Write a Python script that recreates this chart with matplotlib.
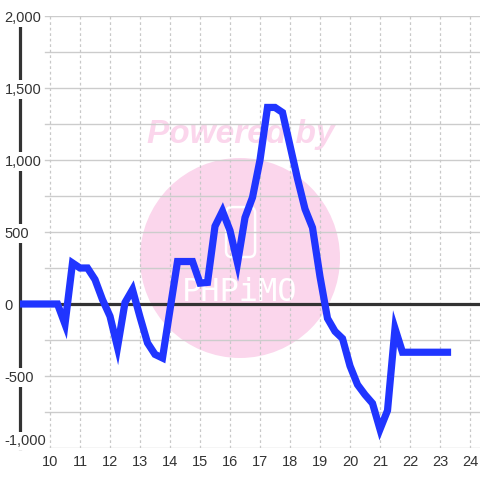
import matplotlib.pyplot as plt
from matplotlib.patches import Circle, FancyBboxPatch

# time of day (hours) and value
hours = [9.0, 9.25, 9.5, 9.75, 10.0, 10.25, 10.5, 10.75, 11.0, 11.25,
         11.5, 11.75, 12.0, 12.25, 12.5, 12.75, 13.0, 13.25, 13.5, 13.75,
         14.0, 14.25, 14.5, 14.75, 15.0, 15.25, 15.5, 15.75, 16.0, 16.25,
         16.5, 16.75, 17.0, 17.25, 17.5, 17.75, 18.0, 18.25, 18.5, 18.75,
         19.0, 19.25, 19.5, 19.75, 20.0, 20.25, 20.5, 20.75, 21.0, 21.25,
         21.5, 21.75, 22.0, 22.25, 22.5, 22.75, 23.0, 23.25]
values = [0, 0, 0, 0, 0, 0, -140, 285, 250, 250,
          170, 30, -85, -300, 10, 100, -90, -270, -350, -375,
          -40, 295, 295, 295, 145, 150, 540, 645, 510, 285,
          600, 740, 1000, 1365, 1365, 1330, 1100, 870, 660, 530,
          190, -100, -190, -240, -430, -560, -630, -690, -870, -740,
          -170, -335, -335, -335, -335, -335, -335, -335]

x_ticks = list(range(10, 25))
y_ticks = [-1000, -500, 0, 500, 1000, 1500, 2000]
y_grid = [-1000, -750, -500, -250, 250, 500, 750, 1000, 1250, 1500, 1750, 2000]

plt.rcParams['font.family'] = ['Liberation Sans', 'DejaVu Sans']

fig = plt.figure(figsize=(4.8, 4.8), dpi=100)
ax = fig.add_axes([20 / 480, 32 / 480, 460 / 480, 432 / 480])
ax.set_xlim(9, 9 + 460 / 30)
ax.set_ylim(-1000, 2000)

# watermark (figure coords, so the circle stays round)
pink = '#fbd6ec'
ax.add_patch(Circle((0.5, 0.4625), 0.2083, transform=fig.transFigure,
                    facecolor=pink, edgecolor='none', zorder=0.1))
ax.add_patch(FancyBboxPatch((0.471, 0.4646), 0.0604, 0.104,
                            boxstyle='round,pad=0,rounding_size=0.012',
                            transform=fig.transFigure, facecolor='none',
                            edgecolor='white', linewidth=1.8, zorder=0.15))
ax.text(0.5, 0.39, 'PHPiMO', transform=fig.transFigure, ha='center',
        va='center', color='white', fontsize=23, family='DejaVu Sans Mono',
        zorder=0.15)
ax.text(0.502, 0.719, 'Powered by', transform=fig.transFigure, ha='center',
        va='center', color=pink, fontsize=24, fontweight='bold',
        fontstyle='italic', zorder=0.15)

# grid
for g in y_grid:
    ax.axhline(g, xmin=25 / 460, color='#cccccc', linewidth=1, zorder=0.3)
ax.set_xticks(x_ticks)
ax.grid(axis='x', color='#c8c8c8', linestyle=(0, (2.2, 2.2)), linewidth=0.9)
ax.axhline(0, color='#333333', linewidth=2.3, zorder=1)

ax.plot(hours, values, color='#2035ff', linewidth=5.2,
        solid_joinstyle='miter', solid_capstyle='projecting', zorder=3)

ax.set_axisbelow(True)
for side in ['top', 'right', 'bottom']:
    ax.spines[side].set_visible(False)
ax.spines['left'].set_color('#333333')
ax.spines['left'].set_linewidth(2.3)
ax.spines['left'].set_zorder(0.4)

ax.set_yticks(y_ticks)
ax.set_yticklabels([f'{v:,}' for v in y_ticks])
ax.tick_params(axis='y', length=0, pad=11, labelsize=10.5, labelcolor='#333333')
ax.tick_params(axis='x', length=0, pad=5, labelsize=10.5, labelcolor='#333333')
for lab in ax.get_yticklabels():
    lab.set_horizontalalignment('left')
    lab.set_bbox(dict(facecolor='white', edgecolor='none', pad=1.5))
ax.get_yticklabels()[0].set_verticalalignment('bottom')

fig.savefig('out.png', dpi=100, facecolor='white')
